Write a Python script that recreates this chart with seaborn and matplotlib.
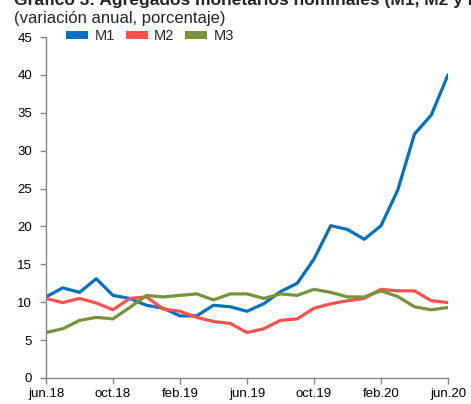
import pandas as pd
import matplotlib.pyplot as plt
import seaborn as sns
from matplotlib.patches import Patch

# Datos (variación anual, %), mensual jun.18 - jun.20
meses = list(range(25))
m1 = [10.7, 11.9, 11.3, 13.1, 10.9, 10.5, 9.6, 9.2, 8.2, 8.2, 9.6, 9.4, 8.8,
      9.8, 11.4, 12.5, 15.7, 20.1, 19.6, 18.3, 20.1, 24.8, 32.2, 34.7, 40.0]
m2 = [10.5, 9.95, 10.5, 9.9, 9.0, 10.5, 10.7, 9.1, 8.8, 8.0, 7.45, 7.2, 6.0,
      6.5, 7.6, 7.8, 9.2, 9.8, 10.2, 10.5, 11.7, 11.5, 11.5, 10.2, 9.95]
m3 = [6.0, 6.5, 7.6, 8.0, 7.8, 9.3, 10.9, 10.7, 10.9, 11.1, 10.3, 11.1, 11.1,
      10.5, 11.1, 10.9, 11.7, 11.3, 10.7, 10.7, 11.5, 10.75, 9.4, 9.0, 9.3]
etiquetas_x = ['jun.18', 'oct.18', 'feb.19', 'jun.19', 'oct.19', 'feb.20', 'jun.20']
colores = {'M1': '#0070C0', 'M2': '#FF5050', 'M3': '#77933C'}

df = pd.DataFrame({'mes': meses, 'M1': m1, 'M2': m2, 'M3': m3})
df_largo = df.melt(id_vars='mes', var_name='serie', value_name='valor')

sns.set_style('white')
plt.rcParams['font.family'] = ['Liberation Sans', 'DejaVu Sans']

fig = plt.figure(figsize=(4.71, 4.04), dpi=100)
ax = fig.add_axes([46 / 471, 1 - 378 / 404, 402 / 471, 341 / 404])

sns.lineplot(data=df_largo, x='mes', y='valor', hue='serie', palette=colores,
             linewidth=2.3, ax=ax, legend=False)

ax.set_xlim(0, 24)
ax.set_ylim(0, 45)
ax.set_xticks(range(0, 25, 4))
ax.set_xticklabels(etiquetas_x)
ax.set_yticks(range(0, 46, 5))
ax.set_xlabel('')
ax.set_ylabel('')
for lado in ['top', 'right']:
    ax.spines[lado].set_visible(False)
for lado in ['left', 'bottom']:
    ax.spines[lado].set_color('#868686')
    ax.spines[lado].set_linewidth(1.0)
ax.tick_params(axis='both', which='major', length=4, width=1, color='#868686',
               labelsize=9.5, labelcolor='black', direction='out')
ax.tick_params(axis='y', pad=6)
ax.tick_params(axis='x', pad=3)
ax.xaxis.set_ticks_position('bottom')
ax.yaxis.set_ticks_position('left')

# Leyenda
handles = [Patch(facecolor=colores[k], edgecolor='none', label=k) for k in ['M1', 'M2', 'M3']]
ax.legend(handles=handles, loc='upper left', bbox_to_anchor=(0.035, 1.04), ncol=3,
          frameon=False, fontsize=10.5, handlelength=1.5, handleheight=0.55,
          handletextpad=0.45, columnspacing=0.75, borderaxespad=0)

# Título (recortado arriba como en el original) y subtítulo
fig.text(14 / 471, 1 - 5 / 404, 'Gráfico 3: Agregados monetarios nominales (M1, M2 y M3)',
         fontsize=12.5, fontweight='bold', ha='left', va='baseline')
fig.text(14 / 471, 1 - 23.5 / 404, '(variación anual, porcentaje)',
         fontsize=12, ha='left', va='baseline')

fig.savefig('out.png', dpi=100)
